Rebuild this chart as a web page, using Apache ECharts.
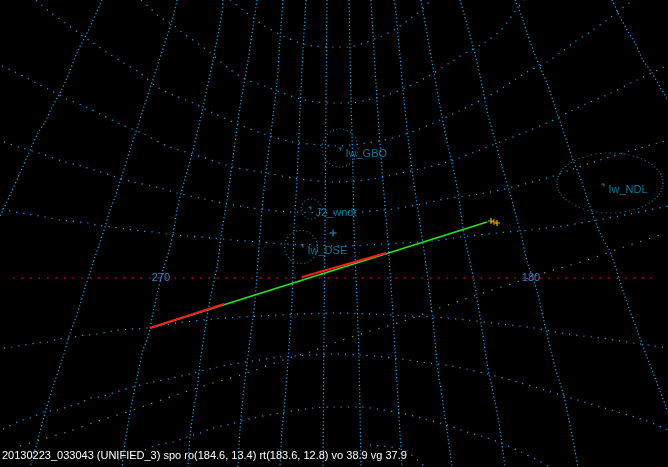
<!DOCTYPE html>
<html><head><meta charset="utf-8">
<script src="https://cdn.jsdelivr.net/npm/echarts@6/dist/echarts.min.js"></script>
<style>html,body{margin:0;padding:0;background:#000;}#c{width:668px;height:467px;}</style>
</head><body><div id="c"></div>
<script>
// grid "meridians" (canvas-sized value axes)
const meridians = [
  [[102,0],[90,27],[77,53],[67,78],[60,93],[52,107],[45,122],[38,133],[28,155],[20,173],[11,193],[3,210],[0,216]],
  [[177,0],[173,17],[157,67],[143,110],[130,150],[120,182],[115,197],[110,210],[105,227],[100,242],[95,257],[90,272],[85,288],[80,305],[75,320],[70,333],[63,357],[53,387],[45,413],[37,443],[30,467]],
  [[223,0],[222,13],[213,60],[203,107],[193,150],[180,197],[177,210],[175,223],[170,247],[163,270],[158,290],[153,313],[148,337],[143,350],[138,373],[133,397],[127,430],[122,467]],
  [[257,0],[253,27],[247,67],[240,107],[233,157],[227,200],[222,230],[217,267],[210,300],[205,330],[200,363],[197,390],[193,413],[190,437],[188,467]],
  [[283,0],[280,40],[277,83],[270,140],[265,180],[261,220],[258,260],[255,300],[250,340],[247,363],[243,397],[240,430],[238,467]],
  [[306,0],[303,50],[300,110],[297,180],[294,230],[292,300],[288,360],[285,400],[282,430],[280,467]],
  [[327,0],[326,100],[325,230],[324,330],[323,467]],
  [[349,0],[350,50],[351,100],[353,170],[354,230],[357,300],[359,360],[361,467]],
  [[371,0],[377,100],[382,170],[387,230],[392,300],[395,350],[398,400],[402,467]],
  [[394,0],[396,13],[404,100],[412,170],[421,230],[428,280],[434,330],[437,363],[442,397],[447,430],[452,467]],
  [[421,0],[434,73],[444,127],[457,187],[464,234],[474,281],[482,330],[487,363],[494,397],[499,423],[505,467]],
  [[460,0],[474,50],[482,85],[488,115],[495,140],[502,167],[510,193],[517,220],[521,234],[527,261],[537,291],[546,330],[554,363],[564,397],[571,430],[578,467]],
  [[515,0],[522,17],[527,33],[533,50],[540,67],[547,83],[557,113],[563,130],[573,160],[580,177],[590,207],[600,233],[611,254],[624,294],[637,330],[647,357],[657,383],[668,412]],
  [[612,0],[620,17],[627,30],[635,43],[643,60],[652,73],[660,87],[668,100]]
];
// grid "parallels"
const parallels = [
  [[230,0],[243,10],[263,25],[283,36],[300,43],[313,46],[334,47],[347,47],[364,43],[377,38],[394,30],[411,18],[424,8],[430,0]],
  [[141,0],[150,8],[160,17],[173,25],[183,33],[200,45],[213,55],[227,67],[243,78],[267,87],[283,93],[300,99],[317,102],[334,103],[351,103],[367,100],[387,95],[407,87],[427,77],[451,62],[467,52],[484,43],[501,30],[514,13],[524,0]],
  [[36,0],[50,12],[68,25],[77,32],[93,43],[108,53],[122,62],[140,73],[157,87],[173,95],[193,103],[213,113],[240,125],[267,135],[293,142],[320,145],[334,146],[384,140],[417,130],[461,110],[494,93],[527,72],[547,62],[560,53],[573,43],[590,32],[607,20],[620,10],[633,0]],
  [[2,66],[15,72],[27,78],[38,84],[48,89],[67,99],[86,107],[102,115],[122,125],[142,133],[167,146],[193,154],[233,167],[267,173],[293,178],[334,182],[367,180],[401,173],[444,163],[480,150],[500,142],[523,133],[547,123],[573,110],[590,102],[607,95],[637,80],[668,65]],
  [[4,142],[19,147],[42,154],[62,161],[81,166],[97,171],[113,176],[133,182],[160,188],[177,193],[200,198],[227,204],[267,210],[293,212],[334,213],[384,210],[417,205],[445,199],[480,194],[513,187],[547,178],[570,170],[600,160],[630,151],[668,140]],
  [[2,209],[15,212],[28,214],[39,216],[50,218],[60,220],[70,221],[79,222],[88,223],[97,225],[112,227],[127,229],[142,231],[153,232],[167,234],[187,236],[213,238],[233,240],[260,242],[283,244],[320,245],[334,246],[367,245],[401,243],[434,241],[461,237],[497,233],[530,230],[563,226],[597,220],[630,214],[668,206]],
  [[4,348],[12,347],[25,345],[37,343],[48,342],[58,339],[70,338],[78,336],[88,335],[97,334],[113,331],[130,329],[147,328],[177,323],[213,319],[260,316],[300,314],[334,313],[374,314],[411,316],[434,317],[467,320],[501,324],[534,328],[567,334],[601,338],[634,343],[668,348]],
  [[3,429],[7,427],[20,421],[33,417],[43,412],[57,410],[67,407],[80,403],[90,398],[100,397],[113,393],[133,387],[153,382],[173,378],[193,373],[213,368],[227,365],[253,361],[280,357],[313,355],[334,354],[361,355],[384,357],[401,359],[421,362],[451,366],[484,373],[521,383],[561,395],[601,407],[644,420],[668,430]],
  [[118,460],[140,452],[157,445],[173,442],[187,437],[200,433],[213,428],[227,425],[253,418],[280,413],[313,408],[334,407],[361,407],[377,409],[401,413],[421,418],[447,425],[467,432],[484,437],[501,443],[521,452],[537,460],[550,467]],
  [[370,445],[401,449],[414,457],[425,467]]
];
const horizon = [[13,278],[655,278]];
const ecliptic = [[20,446],[40,440],[67,432],[98,421],[127,412],[150,404],[182,393],[213,383],[247,373],[283,360],[310,352],[334,343],[367,332],[401,322],[434,310],[474,296],[514,283],[547,272],[587,260],[621,248],[651,238],[665,233]];
const azLabels = ['270', '180'];
const azLabelPos = [[161,278],[531,278]];
const trackFit = [[150,328],[487,222]];
const trackObs1 = [[150,328],[224,304]];
const trackObs2 = [[302,277],[386,253]];
const endMarksYellow = [[491,221],[497,223]];
const endMarksOrange = [[494,222]];
const stationNames = ['Iw_GBO', 'J2_wndt', 'Iw_DSE', 'Iw_NDL'];
const stationPos = [[340,149],[310,208],[302,246],[603,185]];
const fovCenters = [[340,148],[311,209],[301,247],[610,183]];
const fovDiam = [[36,38],[20,20],[33,33],[106,60]];
const crossPos = [[333,233]];
const caption = '20130223_033043 (UNIFIED_3) spo ro(184.6, 13.4) rt(183.6, 12.8) vo 38.9 vg 37.9';

const GRID = '#1aa2f5';
const series = [];
meridians.forEach(m => series.push({type:'line', data:m, smooth:0.3, showSymbol:false, silent:true,
  lineStyle:{color:GRID, width:1.2, type:[1.2,2.4]}}));
parallels.forEach(p => series.push({type:'line', data:p, smooth:0.3, showSymbol:false, silent:true,
  lineStyle:{color:GRID, width:1.2, type:[1.2,6]}}));
series.push({type:'line', data:horizon, showSymbol:false, silent:true, lineStyle:{color:'#d80000', width:1.5, type:[1.5,7]}});
series.push({type:'line', data:ecliptic, smooth:0.3, showSymbol:false, silent:true, lineStyle:{color:'#a0a000', width:1.2, type:[1.2,8]}});
series.push({type:'scatter', silent:true, symbolSize:0,
  data: azLabels.map((t,i)=>({name:t, value:azLabelPos[i]})),
  label:{show:true, position:'inside', formatter:'{b}', color:'#3aa2ff', fontSize:11, fontFamily:'Liberation Sans'}});
// station FOV circles
series.push({type:'scatter', silent:true,
  data: fovCenters.map((c,i)=>({value:c, symbolSize:fovDiam[i]})),
  symbol:'circle', itemStyle:{color:'rgba(0,0,0,0)', borderColor:'#1890bd', borderWidth:1.1, borderType:[1.1,2.5]}});
series.push({type:'scatter', silent:true, symbol:'path://M0,0 L10,0 L10,10 L6,10 L6,4 L0,4 Z', symbolSize:[3,3],
  data: stationNames.map((n,i)=>({name:n, value:stationPos[i]})),
  itemStyle:{color:'#1890bd'},
  label:{show:true, position:'right', distance:4, offset:[0,5], formatter:'{b}', color:'#1890bd', fontSize:11, fontFamily:'Liberation Sans'}});
series.push({type:'scatter', silent:true, symbol:'path://M4,0 L6,0 L6,4 L10,4 L10,6 L6,6 L6,10 L4,10 L4,6 L0,6 L0,4 L4,4 Z', symbolSize:7,
  data:crossPos, itemStyle:{color:'#1890bd'}});
// meteor track
series.push({type:'line', data:trackFit, showSymbol:false, silent:true, lineStyle:{color:'#22e51e', width:1.6}});
series.push({type:'line', data:trackObs1, showSymbol:false, silent:true, lineStyle:{color:'#ff1a1a', width:2}});
series.push({type:'line', data:trackObs2, showSymbol:false, silent:true, lineStyle:{color:'#ff1a1a', width:2}});
const plus = 'path://M4,0 L6,0 L6,4 L10,4 L10,6 L6,6 L6,10 L4,10 L4,6 L0,6 L0,4 L4,4 Z';
series.push({type:'scatter', silent:true, symbol:plus, symbolSize:6, data:endMarksOrange, itemStyle:{color:'#ff8c00'}});
series.push({type:'scatter', silent:true, symbol:plus, symbolSize:6, data:endMarksYellow, itemStyle:{color:'#ffe000'}});

const chart = echarts.init(document.getElementById('c'), null, {renderer:'canvas'});
chart.setOption({
  backgroundColor:'#000',
  animation:false,
  title:{text:caption, left:2, top:450, padding:0, textStyle:{color:'#ffffff', fontSize:11, fontWeight:'normal', fontFamily:'Liberation Sans'}},
  grid:{left:0, right:0, top:0, bottom:0},
  xAxis:{type:'value', min:0, max:668, show:false},
  yAxis:{type:'value', min:0, max:467, inverse:true, show:false},
  series: series
});
</script></body></html>
